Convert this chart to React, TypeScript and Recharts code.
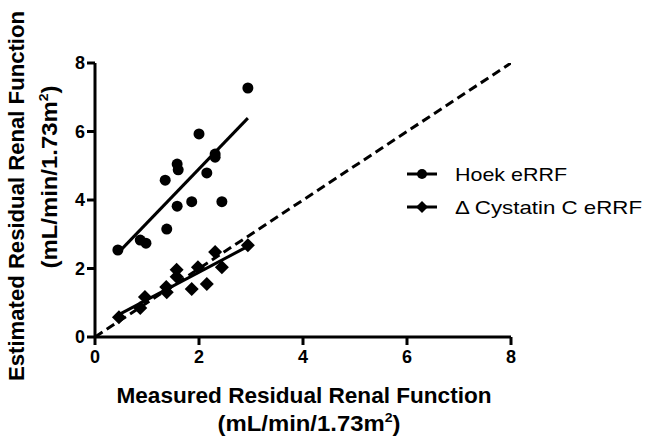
import {
    ComposedChart,
    Scatter,
    Line,
    XAxis,
    YAxis,
    Label
} from 'recharts';

// measured RRF vs estimated (Hoek formula)
const hoekX = [0.44, 0.87, 0.98, 1.38, 1.58, 1.86, 2.44, 2.94, 2.0, 2.31, 2.31, 1.58, 1.6, 2.15, 1.35];
const hoekY = [2.54, 2.83, 2.74, 3.15, 3.82, 3.95, 3.95, 7.27, 5.93, 5.34, 5.25, 5.05, 4.88, 4.79, 4.58];

// measured RRF vs delta cystatin C estimate
const cysX = [0.46, 0.87, 0.96, 1.37, 1.38, 1.57, 1.57, 1.86, 2.15, 1.98, 2.31, 2.44, 2.94];
const cysY = [0.58, 0.85, 1.17, 1.46, 1.31, 1.96, 1.76, 1.40, 1.55, 2.04, 2.48, 2.04, 2.68];

// linear fits (endpoints) and line of identity
const hoekFitX = [0.44, 2.94];
const hoekFitY = [2.45, 6.39];
const cysFitX = [0.44, 2.92];
const cysFitY = [0.64, 2.63];
const identityX = [0, 8];
const identityY = [0, 8];

const ticks = [0, 2, 4, 6, 8];
const seriesNames = ['Hoek eRRF', '\u0394 Cystatin C eRRF'];

const zip = (xs: number[], ys: number[]) => xs.map((x, i) => ({ x, y: ys[i] }));

const hoekData = zip(hoekX, hoekY);
const cysData = zip(cysX, cysY);
const hoekFit = zip(hoekFitX, hoekFitY);
const cysFit = zip(cysFitX, cysFitY);
const identity = zip(identityX, identityY);

const FONT = 'Arial, "Liberation Sans", sans-serif';

const Dot = (p: any) => <circle cx={p.cx} cy={p.cy} r={5.5} fill="#000" />;
const Diamond = (p: any) => (
    <polygon
        points={`${p.cx},${p.cy - 7} ${p.cx + 7},${p.cy} ${p.cx},${p.cy + 7} ${p.cx - 7},${p.cy}`}
        fill="#000"
    />
);

// legend drawn as a small svg on top of the chart
function LegendBox() {
    const widths = [112, 187];
    return (
        <svg width={240} height={70} style={{ position: 'absolute', left: 406, top: 158 }}>
            {seriesNames.map((name, i) => {
                const cy = 16 + i * 33;
                return (
                    <g key={name}>
                        <line x1={1} y1={cy} x2={31} y2={cy} stroke="#000" strokeWidth={3} />
                        {i === 0
                            ? <circle cx={16} cy={cy} r={5} fill="#000" />
                            : <polygon points={`16,${cy - 6} 22,${cy} 16,${cy + 6} 10,${cy}`} fill="#000" />}
                        <text
                            x={49}
                            y={cy + 4 + 3}
                            fontFamily={FONT}
                            fontSize={19}
                            textLength={widths[i]}
                            lengthAdjust="spacingAndGlyphs"
                        >
                            {name}
                        </text>
                    </g>
                );
            })}
        </svg>
    );
}

const axisStyle = { stroke: '#000', strokeWidth: 3 };
const tickStyle = { fill: '#000', fontFamily: FONT, fontSize: 18, fontWeight: 700 };

const Unit = ({ transform, x, y }: { transform?: string; x: number; y: number }) => (
    <text
        x={x}
        y={y}
        fontSize={22}
        textAnchor="middle"
        textLength={183}
        lengthAdjust="spacingAndGlyphs"
        transform={transform}
    >
        (mL/min/1.73m<tspan dy={-9} fontSize={13}>2</tspan><tspan dy={9}>)</tspan>
    </text>
);

export default function App() {
    return (
        <div style={{ position: 'absolute', left: 0, top: 0, width: 646, height: 439, background: '#fff' }}>
            <ComposedChart
                width={646}
                height={439}
                margin={{ top: 63, right: 135, bottom: 0, left: 0 }}
            >
                <XAxis
                    dataKey="x"
                    type="number"
                    domain={[0, 8]}
                    ticks={ticks}
                    height={102}
                    axisLine={axisStyle}
                    tickLine={axisStyle}
                    tickSize={8}
                    tickMargin={5}
                    tick={tickStyle}
                    allowDataOverflow
                >
                    <Label
                        content={() => (
                            <g fontFamily={FONT} fontWeight={700} fill="#000">
                                <text x={304} y={403} fontSize={22} textAnchor="middle" textLength={375} lengthAdjust="spacingAndGlyphs">
                                    Measured Residual Renal Function
                                </text>
                                <Unit x={309} y={431} />
                            </g>
                        )}
                    />
                </XAxis>
                <YAxis
                    dataKey="y"
                    type="number"
                    domain={[0, 8]}
                    ticks={ticks}
                    width={95}
                    axisLine={axisStyle}
                    tickLine={axisStyle}
                    tickSize={8}
                    tickMargin={2}
                    tick={tickStyle}
                    allowDataOverflow
                >
                    <Label
                        content={() => (
                            <g fontFamily={FONT} fontWeight={700} fill="#000">
                                <text
                                    x={0}
                                    y={0}
                                    fontSize={22}
                                    textAnchor="middle"
                                    textLength={370}
                                    lengthAdjust="spacingAndGlyphs"
                                    transform="translate(24,196) rotate(-90)"
                                >
                                    Estimated Residual Renal Function
                                </text>
                                <Unit x={0} y={0} transform="translate(57,177) rotate(-90)" />
                            </g>
                        )}
                    />
                </YAxis>
                <Line
                    data={identity}
                    dataKey="y"
                    stroke="#000"
                    strokeWidth={3}
                    strokeDasharray="9 5"
                    dot={false}
                    legendType="none"
                    isAnimationActive={false}
                />
                <Line
                    data={hoekFit}
                    dataKey="y"
                    stroke="#000"
                    strokeWidth={3}
                    dot={false}
                    legendType="none"
                    isAnimationActive={false}
                />
                <Line
                    data={cysFit}
                    dataKey="y"
                    stroke="#000"
                    strokeWidth={3}
                    dot={false}
                    legendType="none"
                    isAnimationActive={false}
                />
                <Scatter name={seriesNames[0]} data={hoekData} shape={Dot} isAnimationActive={false} />
                <Scatter name={seriesNames[1]} data={cysData} shape={Diamond} isAnimationActive={false} />
            </ComposedChart>
            <LegendBox />
        </div>
    );
}
